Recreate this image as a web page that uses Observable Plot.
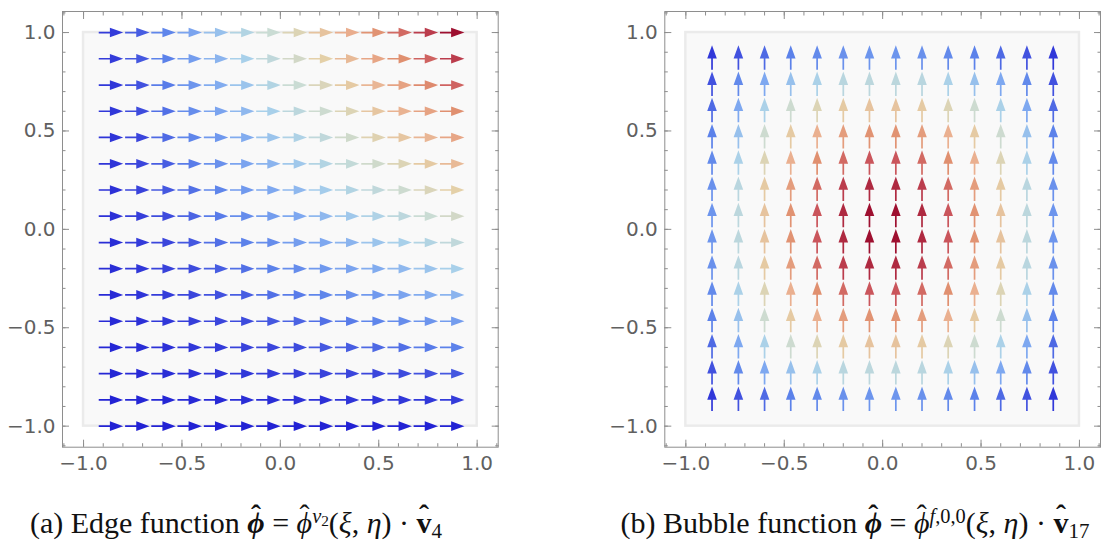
<!DOCTYPE html>
<html><head><meta charset="utf-8">
<script src="https://cdn.jsdelivr.net/npm/d3@7"></script>
<script src="https://cdn.jsdelivr.net/npm/@observablehq/plot@0.6"></script>
<style>
html,body{margin:0;padding:0;background:#fff;}
#wrap{position:relative;width:1111px;height:545px;overflow:hidden;}
.panel{position:absolute;top:0;}
.cap{position:absolute;top:504px;font-family:"Liberation Serif","Times New Roman",serif;font-size:30px;line-height:38px;color:#111;white-space:nowrap;transform:translateX(-50%);}
.acc{position:relative;display:inline-block;}
.acc::after{content:"ˆ";position:absolute;left:0;right:0;top:-0.28em;text-align:center;font-weight:normal;font-style:normal;}
.acc.b::after{font-weight:bold;}
.cap sup{font-size:0.68em;vertical-align:0.5em;line-height:0;}
.cap sub{font-size:0.7em;vertical-align:-0.25em;line-height:0;}
.cap sup sub{font-size:0.75em;vertical-align:-0.2em;}
</style></head>
<body>
<div id="wrap">
  <div id="pa" class="panel" style="left:0px"></div>
  <div id="pb" class="panel" style="left:602px"></div>
  <div class="cap" style="left:236px">(a) Edge function <span class="acc b"><b><i>ϕ</i></b></span> = <span class="acc"><i>ϕ</i></span><sup><i>v</i><sub>2</sub></sup>(<i>ξ</i>, <i>η</i>) · <span class="acc b"><b>v</b></span><sub>4</sub></div>
  <div class="cap" style="left:855px">(b) Bubble function <span class="acc b"><b><i>ϕ</i></b></span> = <span class="acc"><i>ϕ</i></span><sup><i>f</i>,0,0</sup>(<i>ξ</i>, <i>η</i>) · <span class="acc b"><b>v</b></span><sub>17</sub></div>
</div>
<script>
// ---- data ----
const xCols = [-0.867,-0.733,-0.6,-0.467,-0.333,-0.2,-0.067,0.067,0.2,0.333,0.467,0.6,0.733,0.867];
const edgeRowsY = [1,0.867,0.733,0.6,0.467,0.333,0.2,0.067,-0.067,-0.2,-0.333,-0.467,-0.6,-0.733,-0.867,-1];
const bubbleRowsY = [0.867,0.733,0.6,0.467,0.333,0.2,0.067,-0.067,-0.2,-0.333,-0.467,-0.6,-0.733,-0.867];

// (a) edge function: relative magnitude (colour) of each horizontal arrow, rows top to bottom
const edgeMagnitude = [
  [0.07,0.14,0.21,0.29,0.36,0.43,0.50,0.57,0.64,0.71,0.79,0.86,0.93,1.00],
  [0.07,0.13,0.20,0.27,0.33,0.40,0.47,0.53,0.60,0.67,0.73,0.80,0.87,0.93],
  [0.06,0.12,0.19,0.25,0.31,0.37,0.43,0.50,0.56,0.62,0.68,0.74,0.81,0.87],
  [0.06,0.11,0.17,0.23,0.29,0.34,0.40,0.46,0.51,0.57,0.63,0.69,0.74,0.80],
  [0.05,0.10,0.16,0.21,0.26,0.31,0.37,0.42,0.47,0.52,0.58,0.63,0.68,0.73],
  [0.05,0.10,0.14,0.19,0.24,0.29,0.33,0.38,0.43,0.48,0.52,0.57,0.62,0.67],
  [0.04,0.09,0.13,0.17,0.21,0.26,0.30,0.34,0.39,0.43,0.47,0.51,0.56,0.60],
  [0.04,0.08,0.11,0.15,0.19,0.23,0.27,0.30,0.34,0.38,0.42,0.46,0.50,0.53],
  [0.03,0.07,0.10,0.13,0.17,0.20,0.23,0.27,0.30,0.33,0.37,0.40,0.43,0.47],
  [0.03,0.06,0.09,0.11,0.14,0.17,0.20,0.23,0.26,0.29,0.31,0.34,0.37,0.40],
  [0.02,0.05,0.07,0.10,0.12,0.14,0.17,0.19,0.21,0.24,0.26,0.29,0.31,0.33],
  [0.02,0.04,0.06,0.08,0.10,0.11,0.13,0.15,0.17,0.19,0.21,0.23,0.25,0.27],
  [0.01,0.03,0.04,0.06,0.07,0.09,0.10,0.11,0.13,0.14,0.16,0.17,0.19,0.20],
  [0.01,0.02,0.03,0.04,0.05,0.06,0.07,0.08,0.09,0.10,0.10,0.11,0.12,0.13],
  [0.00,0.01,0.01,0.02,0.02,0.03,0.03,0.04,0.04,0.05,0.05,0.06,0.06,0.07],
  [0.00,0.00,0.00,0.00,0.00,0.00,0.00,0.00,0.00,0.00,0.00,0.00,0.00,0.00]
];

// (b) bubble function: relative magnitude (colour) of each vertical arrow, rows top to bottom
const bubbleMagnitude = [
  [0.06,0.12,0.16,0.20,0.22,0.24,0.25,0.25,0.24,0.22,0.20,0.16,0.12,0.06],
  [0.12,0.22,0.30,0.36,0.41,0.45,0.46,0.46,0.45,0.41,0.36,0.30,0.22,0.12],
  [0.16,0.30,0.41,0.51,0.57,0.62,0.64,0.64,0.62,0.57,0.51,0.41,0.30,0.16],
  [0.20,0.36,0.51,0.62,0.70,0.76,0.79,0.79,0.76,0.70,0.62,0.51,0.36,0.20],
  [0.22,0.41,0.57,0.70,0.80,0.86,0.89,0.89,0.86,0.80,0.70,0.57,0.41,0.22],
  [0.24,0.45,0.62,0.76,0.86,0.93,0.96,0.96,0.93,0.86,0.76,0.62,0.45,0.24],
  [0.25,0.46,0.64,0.79,0.89,0.96,1.00,1.00,0.96,0.89,0.79,0.64,0.46,0.25],
  [0.25,0.46,0.64,0.79,0.89,0.96,1.00,1.00,0.96,0.89,0.79,0.64,0.46,0.25],
  [0.24,0.45,0.62,0.76,0.86,0.93,0.96,0.96,0.93,0.86,0.76,0.62,0.45,0.24],
  [0.22,0.41,0.57,0.70,0.80,0.86,0.89,0.89,0.86,0.80,0.70,0.57,0.41,0.22],
  [0.20,0.36,0.51,0.62,0.70,0.76,0.79,0.79,0.76,0.70,0.62,0.51,0.36,0.20],
  [0.16,0.30,0.41,0.51,0.57,0.62,0.64,0.64,0.62,0.57,0.51,0.41,0.30,0.16],
  [0.12,0.22,0.30,0.36,0.41,0.45,0.46,0.46,0.45,0.41,0.36,0.30,0.22,0.12],
  [0.06,0.12,0.16,0.20,0.22,0.24,0.25,0.25,0.24,0.22,0.20,0.16,0.12,0.06]
];

const majorTicks = [-1,-0.5,0,0.5,1];
const minorTicks = [-1.1,-1.0,-0.9,-0.8,-0.7,-0.6,-0.5,-0.4,-0.3,-0.2,-0.1,0,0.1,0.2,0.3,0.4,0.5,0.6,0.7,0.8,0.9,1.0,1.1];
const frameDomain = [-1.107, 1.107];
const innerSquare = [{x1:-1, x2:1, y1:-1, y2:1}];
const colorStops = [0,0.1,0.2,0.3,0.4,0.5,0.6,0.7,0.8,0.9,1];
const colorRange = ["#2323d4","#3b46dc","#5c82ea","#7ea8f0","#a8d0ea","#cadcd4","#e4d0a8","#eab090","#e09070","#c8505a","#9e1030"];

// ---- build ----
function grid(rowsY, mags){
  const out = [];
  rowsY.forEach((y,i) => xCols.forEach((x,j) => out.push({x, y, m: mags[i][j]})));
  return out;
}

const arrowShape = {
  draw(ctx, l){
    const h = 10, w = 3.6;
    ctx.moveTo(0, 0);
    ctx.lineTo(0, -(l - h + 1));
    ctx.moveTo(0, -l);
    ctx.lineTo(w, -l + h);
    ctx.lineTo(-w, -l + h);
    ctx.closePath();
  }
};

const GRAY = "#8e8e8e";
const LABEL = "#606060";
const fmt = d3.format(".1f");

function panel(data, rotate, marginLeft, width){
  const plotW = 435.7;
  const tickMarks = [];
  for (const anchor of ["bottom","top"]) {
    tickMarks.push(Plot.axisX(minorTicks, {anchor, tickSize:-3.5, stroke:GRAY, fill:"none", label:null}));
    tickMarks.push(Plot.axisX(majorTicks, {anchor, tickSize:-7, stroke:GRAY, fill:"none", label:null}));
  }
  for (const anchor of ["left","right"]) {
    tickMarks.push(Plot.axisY(minorTicks, {anchor, tickSize:-3.5, stroke:GRAY, fill:"none", label:null}));
    tickMarks.push(Plot.axisY(majorTicks, {anchor, tickSize:-7, stroke:GRAY, fill:"none", label:null}));
  }
  return Plot.plot({
    width, height: 490,
    marginLeft, marginRight: width - marginLeft - plotW, marginTop: 11, marginBottom: 490 - 11 - plotW,
    x: {domain: frameDomain},
    y: {domain: frameDomain},
    color: {type:"linear", domain: colorStops, range: colorRange, interpolate:"rgb"},
    style: {fontFamily:"DejaVu Sans", fontSize:"20px", color:LABEL, background:"transparent", overflow:"visible"},
    marks: [
      Plot.rect(innerSquare, {x1:"x1", x2:"x2", y1:"y1", y2:"y2", fill:"#f9f9f9", stroke:"#ebebeb", strokeWidth:2.5}),
      Plot.frame({stroke:GRAY}),
      ...tickMarks,
      Plot.axisX(majorTicks, {anchor:"bottom", tickSize:0, tickPadding:9, tickFormat:fmt, fill:LABEL, label:null}),
      Plot.axisY(majorTicks, {anchor:"left", tickSize:0, tickPadding:7, tickFormat:fmt, fill:LABEL, label:null}),
      Plot.vector(data, {x:"x", y:"y", length:22, rotate, anchor:"middle", shape:arrowShape,
        stroke:"m", fill:"m", strokeWidth:1.7, strokeLinejoin:"miter", strokeLinecap:"butt"})
    ]
  });
}

document.getElementById("pa").append(panel(grid(edgeRowsY, edgeMagnitude), 90, 62, 510));
document.getElementById("pb").append(panel(grid(bubbleRowsY, bubbleMagnitude), 0, 62.3, 509));
</script>
</body></html>
